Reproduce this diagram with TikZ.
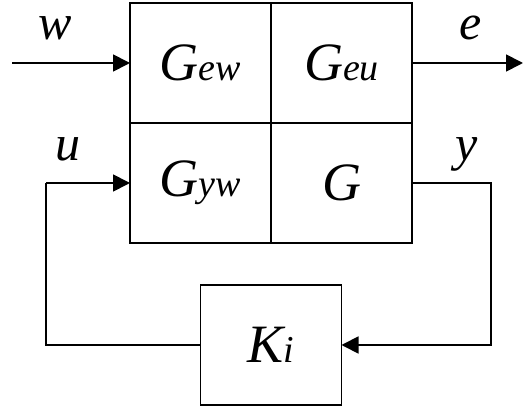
\documentclass[tikz,border=0pt]{standalone}
\usepackage{fontspec}
\setmainfont{Liberation Serif}
\usepackage{tikz}
\usetikzlibrary{arrows.meta,positioning}
\tikzset{
  cell/.style={draw=black,line width=1.8pt,outer sep=0pt,inner sep=0pt,minimum width=141pt,minimum height=120pt,font=\fontsize{54}{54}\selectfont\itshape},
  sig/.style={-{Triangle[length=17pt,width=17pt]},draw=black,line width=1.8pt},
  wire/.style={draw=black,line width=1.8pt},
  lbl/.style={inner sep=0pt,font=\fontsize{50}{50}\selectfont\itshape}
}
\newcommand{\sub}[1]{{\fontsize{38}{38}\selectfont #1}}

\begin{document}
\begin{tikzpicture}[x=1pt,y=1pt,node distance=0pt]
\useasboundingbox (0,0) rectangle (523,407);
% plant blocks
\node[cell] (gew) at (200.5,344) {G\sub{ew}};
\node[cell,right=of gew] (geu) {G\sub{eu}};
\node[cell,below=of gew] (gyw) {G\sub{yw}};
\node[cell,below=of geu] (g) {G};
% controller
\node[cell,below=42pt of gyw.south east] (k) {K\sub{i}};
% free ends
\coordinate (win) at (12,344);
\coordinate (eout) at (523,344);
\coordinate (ycorner) at (490.7,224);
\coordinate (ucorner) at (46,224);
% signals
\draw[sig] (win) -- (gew);
\draw[sig] (geu) -- (eout);
\draw[sig] (g.east) -- (ycorner) |- (k.east);
\draw[wire] (k.west) -| (ucorner);
\draw[sig] (ucorner) -- (gyw.west);
% labels
\node[lbl] (wl) at (55,379) {w};
\node[lbl] (el) at (471,379) {e};
\node[lbl] (ul) at (68,258) {u};
\node[lbl] (yl) at (467,253) {y};
\end{tikzpicture}
\end{document}
